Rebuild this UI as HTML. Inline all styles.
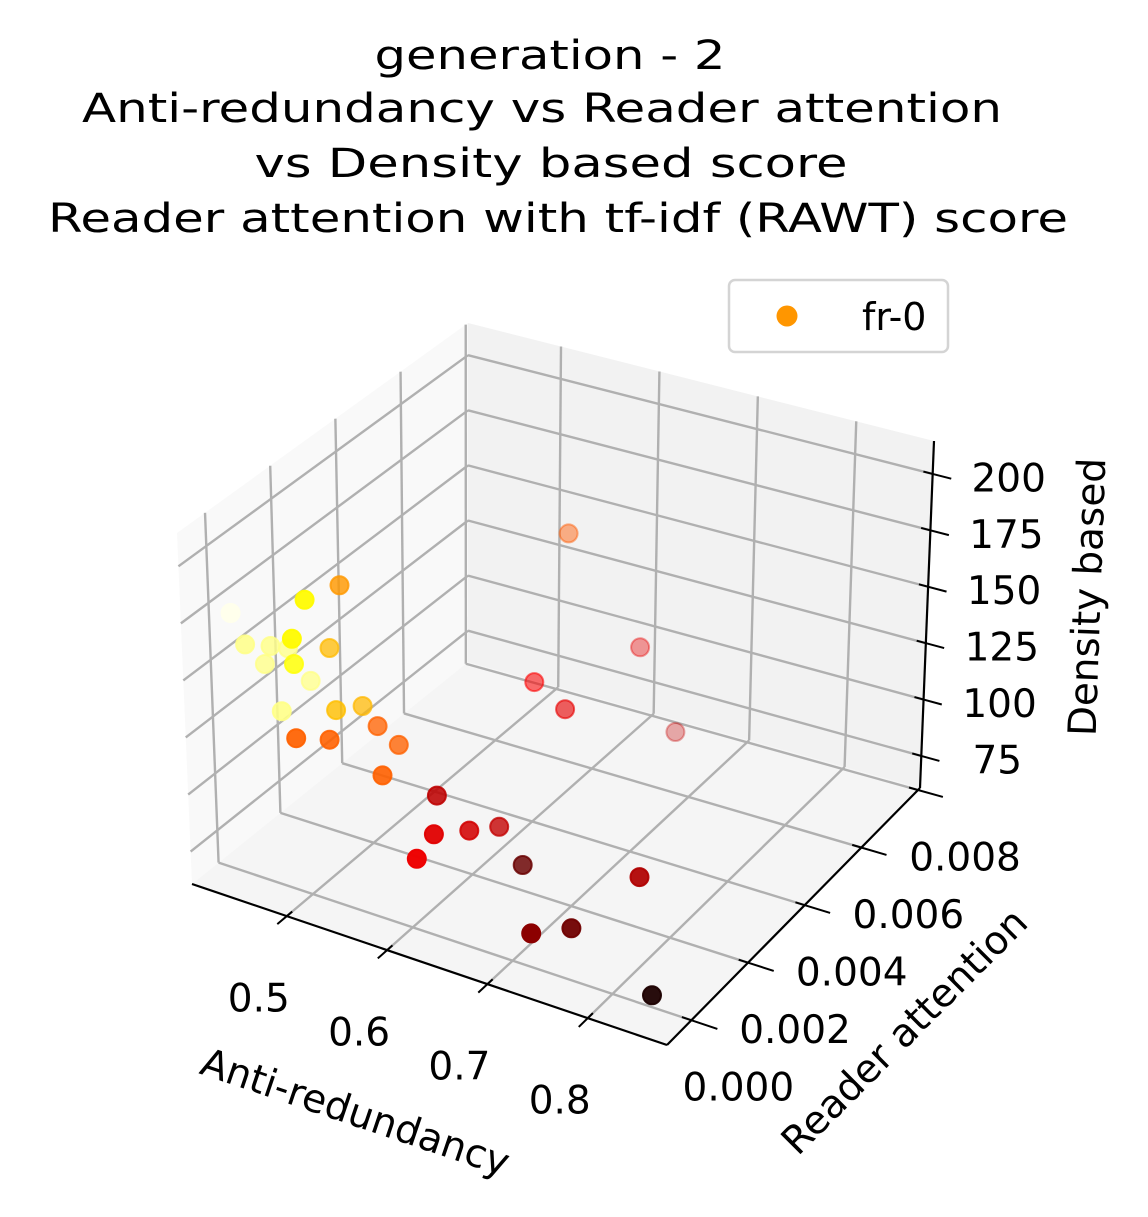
<!DOCTYPE html>
<html><head><meta charset="utf-8"><style>
html,body{margin:0;padding:0;background:#fff}
svg{display:block}
text{font-family:"DejaVu Sans","Liberation Sans",sans-serif;fill:#000}
</style></head><body>
<svg id="chart" width="1148" height="1217" viewBox="0 0 1148 1217" xmlns="http://www.w3.org/2000/svg">
<g font-size="40" text-anchor="middle">
<text x="550" y="69" textLength="351" lengthAdjust="spacingAndGlyphs">generation - 2</text>
<text x="542" y="122" textLength="920" lengthAdjust="spacingAndGlyphs">Anti-redundancy vs Reader attention</text>
<text x="551" y="177" textLength="593" lengthAdjust="spacingAndGlyphs">vs  Density based score</text>
<text x="558" y="232" textLength="1020" lengthAdjust="spacingAndGlyphs">Reader attention with tf-idf (RAWT) score</text>
</g>
<g id="panes"></g>
<g id="grid"></g>
<g id="axes"></g>
<g id="points"></g>
<g>
<rect x="729" y="280" width="219" height="72" rx="6" fill="#fff" stroke="#d4d4d4" stroke-width="2.5"/>
<circle cx="787" cy="316" r="10.5" fill="#ff9600"/>
<text x="862" y="330" font-size="38">fr-0</text>
</g>
</svg>
<script>
// data (Anti-redundancy, Reader attention, Density based, colour value)
const xs = [0.426,0.485,0.477,0.410,0.421,0.480,0.424,0.451,0.409,0.464,0.440,0.459,0.485,0.483,0.512,0.487,0.506,0.533,0.558,0.598,0.622,0.630,0.633,0.618,0.670,0.566,0.626,0.587,0.632,0.650,0.800,0.731,0.753,0.831];
const ys = [0.00003,0.00048,0.00182,0.00093,0.00137,0.00021,0.00182,0.00227,0.00155,0.00075,0.00200,0.00048,0.00137,0.00227,0.00182,0.00003,0.00048,0.00182,0.00048,0.00093,0.00003,0.00093,0.00182,-0.00041,0.00137,0.00628,0.00673,0.00450,0.00405,0.00718,0.00093,-0.00041,0.00021,0.00030];
const zs = [173.1,182.3,173.2,147.5,143.6,167.4,138.2,137.1,132.1,148.3,124.0,129.8,124.2,115.8,115.9,126.8,123.9,110.5,115.6,107.3,104.1,96.5,88.3,97.9,82.0,158.3,109.5,115.0,114.0,69.3,100.0,81.9,79.9,61.0];
const cs = [0.98,0.74,0.594,0.88,0.88,0.74,0.88,0.643,0.88,0.76,0.88,0.88,0.65,0.64,0.51,0.51,0.51,0.51,0.51,0.27,0.32,0.30,0.28,0.34,0.15,0.50,0.33,0.36,0.33,0.28,0.25,0.20,0.16,0.04];
const xTicks = [0.5,0.6,0.7,0.8];
const yTicks = [0,0.002,0.004,0.006,0.008];
const zTicks = [75,100,125,150,175,200];
const xTickLabels = ["0.5","0.6","0.7","0.8"];
const yTickLabels = ["0.000","0.002","0.004","0.006","0.008"];
const zTickLabels = ["75","100","125","150","175","200"];

const X0=0.4055,X1=0.879,Y0=-0.00086,Y1=0.00807,Z0=60.8,Z1=214.6;
const NS='http://www.w3.org/2000/svg';
const C={f00:[192,884],f10:[667,1045],f01:[468,662],f11:[920,788],
  t00:[177,533],t10:[668,685],t01:[468,323],t11:[934,441]};
function lerp(a,b,t){return [a[0]+(b[0]-a[0])*t,a[1]+(b[1]-a[1])*t];}
function projN(u,v,w){
  const b=lerp(lerp(C.f00,C.f10,u),lerp(C.f01,C.f11,u),v);
  const t=lerp(lerp(C.t00,C.t10,u),lerp(C.t01,C.t11,u),v);
  return lerp(b,t,w);
}
const sx=x=>(x-X0)/(X1-X0), sy=y=>(y-Y0)/(Y1-Y0), sz=z=>(z-Z0)/(Z1-Z0);
function el(tag,attrs,parent){const e=document.createElementNS(NS,tag);for(const k in attrs)e.setAttribute(k,attrs[k]);parent.appendChild(e);return e;}
function line(p,q,color,w,parent){return el('line',{x1:p[0],y1:p[1],x2:q[0],y2:q[1],stroke:color,'stroke-width':w},parent);}
function poly(pts,fill,parent){return el('polygon',{points:pts.map(p=>p.join(',')).join(' '),fill:fill},parent);}

const panes=document.getElementById('panes');
let p=poly([projN(0,0,0),projN(0,1,0),projN(0,1,1),projN(0,0,1)],'#f9f9f9',panes);


p=poly([projN(0,1,0),projN(1,1,0),projN(1,1,1),projN(0,1,1)],'#f2f2f2',panes);


p=poly([projN(0,0,0),projN(1,0,0),projN(1,1,0),projN(0,1,0)],'#f5f5f5',panes);



const grid=document.getElementById('grid');
const G='#b0b0b0',GW=2.4;
xTicks.forEach(t=>{const u=sx(t);
  let l=line(projN(u,0,0),projN(u,1,0),G,GW,grid);
  
  
  l=line(projN(u,1,0),projN(u,1,1),G,GW,grid);
  
  });
yTicks.forEach(t=>{const v=sy(t);
  let l=line(projN(0,v,0),projN(1,v,0),G,GW,grid);
  
  
  l=line(projN(0,v,0),projN(0,v,1),G,GW,grid);
  
  });
zTicks.forEach(t=>{const w=sz(t);
  let l=line(projN(0,0,w),projN(0,1,w),G,GW,grid);
  
  
  l=line(projN(0,1,w),projN(1,1,w),G,GW,grid);
  
  });

const axes=document.getElementById('axes');
let a=line(projN(0,0,0),projN(1,0,0),'#000',2.2,axes);


a=line(projN(1,0,0),projN(1,1,0),'#000',2.2,axes);


a=line(projN(1,1,0),projN(1,1,1),'#000',2.2,axes);


function tlabel(txt,x,y,name){const t=el('text',{x:x,y:y,'font-size':39,'text-anchor':'middle','dominant-baseline':'central'},axes);t.textContent=txt;
  
  }
xTicks.forEach((t,i)=>{const u=sx(t);const q=projN(u,0,0);
  const tk=line(projN(u,-0.035,0),projN(u,0.02,0),'#000',2,axes);
  
  
  tlabel(xTickLabels[i],q[0]-28,q[1]+83,'x-tick-label');});
yTicks.forEach((t,i)=>{const v=sy(t);const q=projN(1,v,0);
  const tk=line(projN(0.98,v,0),projN(1.055,v,0),'#000',2,axes);
  
  
  tlabel(yTickLabels[i],q[0]+47,q[1]+68,'y-tick-label');});
zTicks.forEach((t,i)=>{const w=sz(t);const q=projN(1,1,w);
  const tk=line(projN(0.98,1,w),projN(1.04,1,w),'#000',2,axes);
  
  
  tlabel(zTickLabels[i],q[0]+76,q[1]+5,'z-tick-label');});
function alabel(txt,x,y,rot,name){const t=el('text',{x:x,y:y,'font-size':39,'text-anchor':'middle','dominant-baseline':'central',transform:`rotate(${rot} ${x} ${y})`},axes);t.textContent=txt;
  
  }
alabel('Anti-redundancy',355,1113,18.7,'x-axis-title');
alabel('Reader attention',905,1032,-45,'y-axis-title');
alabel('Density based',1088,597,-88,'z-axis-title');

function hot(t){const r=Math.min(1,Math.max(0,t/0.365)),g=Math.min(1,Math.max(0,(t-0.365)/0.381)),b=Math.min(1,Math.max(0,(t-0.746)/0.254));
  return `rgb(${Math.round(r*255)},${Math.round(g*255)},${Math.round(b*255)})`;}
const pts=xs.map((x,i)=>{const u=sx(x),v=sy(ys[i]),w=sz(zs[i]);return {i,u,v,w,near:0.2*u-v+0.2*w};});
const nmin=Math.min(...pts.map(p=>p.near)),nmax=Math.max(...pts.map(p=>p.near));
pts.sort((a,b)=>a.near-b.near);
const pg=document.getElementById('points');
pts.forEach(p=>{const q=projN(p.u,p.v,p.w);
  const al=0.32+0.68*(p.near-nmin)/(nmax-nmin);
  const col=hot(cs[p.i]);
  const c=el('circle',{cx:q[0].toFixed(1),cy:q[1].toFixed(1),r:9,fill:col,'fill-opacity':al.toFixed(2),stroke:col,'stroke-opacity':al.toFixed(2),'stroke-width':2},pg);
  
  });
</script>
</body></html>
